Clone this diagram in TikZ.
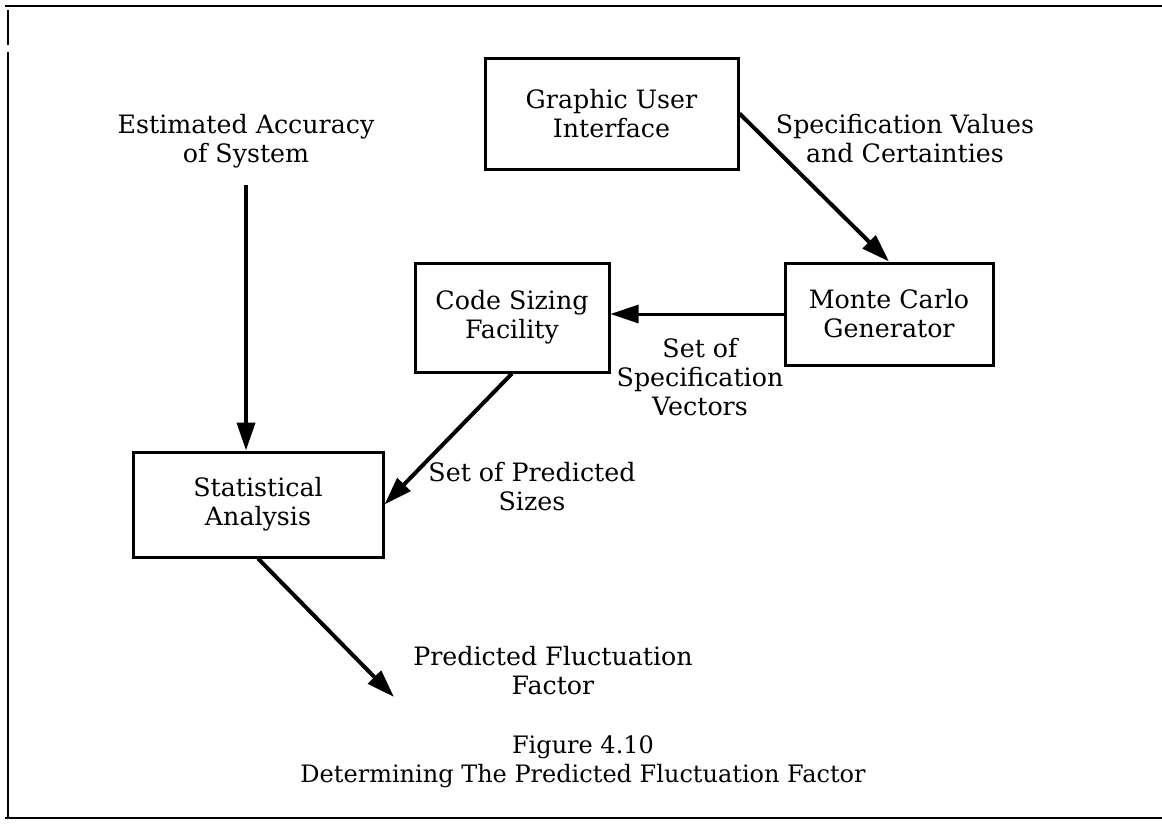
\documentclass[tikz,border=0pt]{standalone}
\usepackage{fontspec}
\setmainfont{DejaVu Serif}
\usetikzlibrary{arrows.meta}
\begin{document}
\begin{tikzpicture}[x=1pt,y=-1pt,
  txt/.style={align=center,inner sep=0pt,font=\fontsize{25.3}{29}\selectfont},
  captxt/.style={align=center,inner sep=0pt,font=\fontsize{24}{29}\selectfont},
  boxnode/.style={txt,draw,line width=3pt,minimum width=#1},
  arr/.style={line width=4pt,-{Triangle[length=28pt,width=18pt]}},
  frame/.style={line width=2.5pt}]
\useasboundingbox (0,0) rectangle (1162,825);
% frame
\coordinate (f1) at (5,6); \coordinate (f2) at (1162,6);
\coordinate (f3) at (8,10); \coordinate (f4) at (8,45);
\coordinate (f5) at (8,52); \coordinate (f6) at (8,818);
\coordinate (f7) at (5,818); \coordinate (f8) at (1162,818);
\draw[frame] (f1) -- (f2);
\draw[frame] (f3) -- (f4);
\draw[frame] (f5) -- (f6);
\draw[frame] (f7) -- (f8);
% boxes
\node[boxnode=253pt,minimum height=111pt] (gui) at (611.5,113.5) {Graphic User\\Interface};
\node[boxnode=208pt,minimum height=102pt] (mc) at (889,314) {Monte Carlo\\Generator};
\node[boxnode=194pt,minimum height=109pt] (cs) at (512,317.5) {Code Sizing\\Facility};
\node[boxnode=250pt,minimum height=105pt] (stat) at (258,504.5) {Statistical\\Analysis};
% labels
\node[txt] (est) at (246,141) {Estimated Accuracy\\of System};
\node[txt] (spec) at (905,139) {Specification Values\\and Certainties};
\node[txt] (vec) at (700,377) {Set of\\Specification\\Vectors};
\node[txt] (pred) at (532,487) {Set of Predicted\\Sizes};
\node[txt] (fluc) at (553,671) {Predicted Fluctuation\\Factor};
\node[captxt] (cap) at (583,762) {Figure 4.10\\Determining The Predicted Fluctuation Factor};
% connectors
\coordinate (a1) at (246,185);
\coordinate (out) at (394,697);
\draw[arr] (a1) -- (stat.north -| a1);
\draw[arr] (gui.east) -- (mc.north);
\draw[arr,line width=3pt] (mc.west) -- (mc.west -| cs.east);
\draw[arr] (cs.south) -- (stat.east);
\draw[arr] (stat.south) -- (out);
\end{tikzpicture}
\end{document}
